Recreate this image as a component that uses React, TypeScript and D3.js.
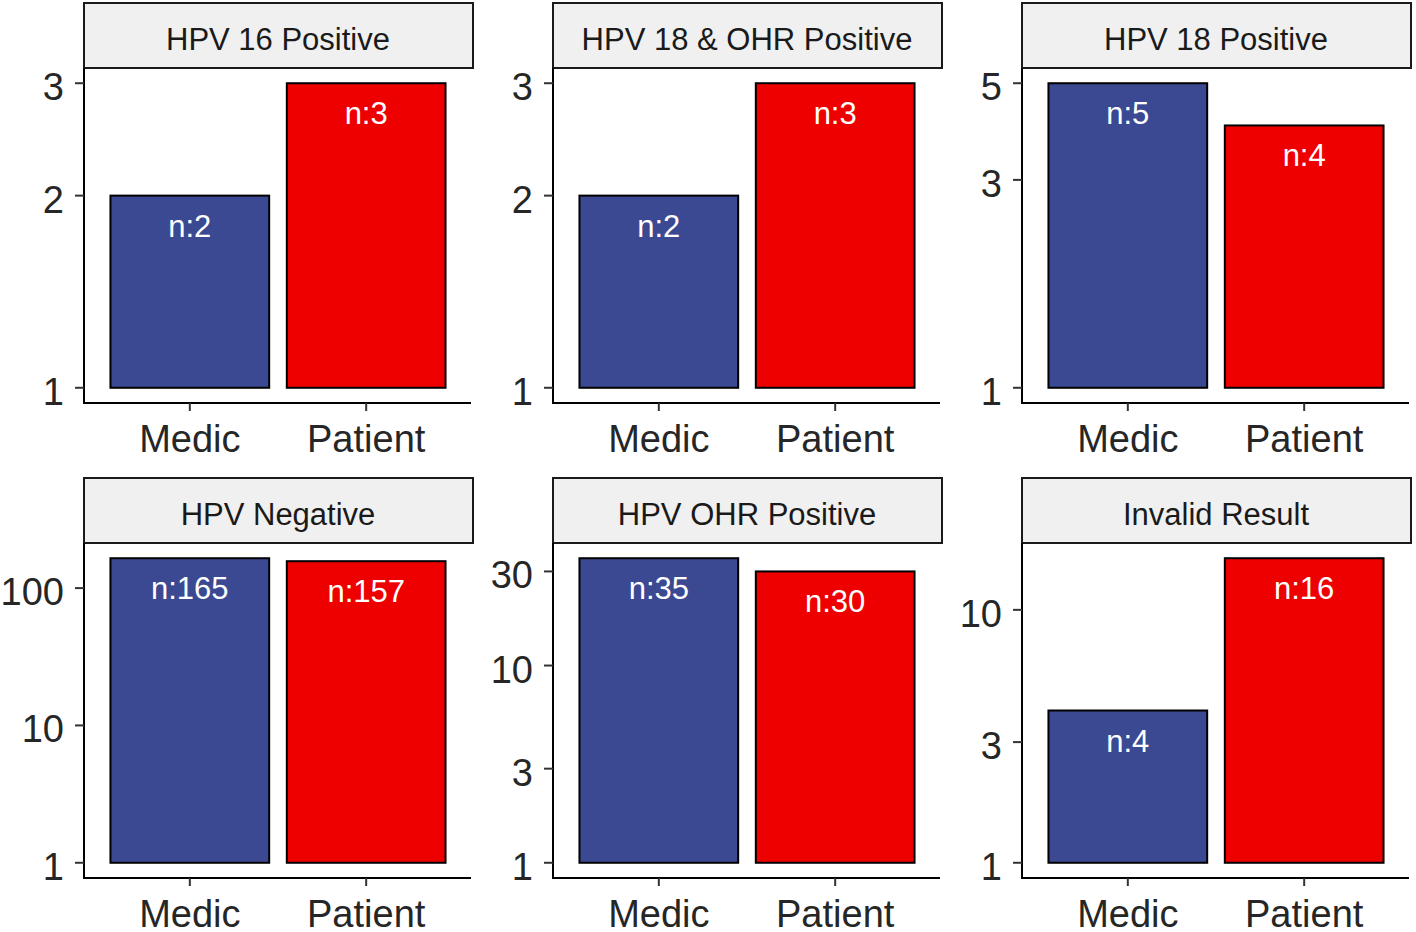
import React from "react";
import * as d3 from "d3";

const panels = [
  "HPV 16 Positive",
  "HPV 18 & OHR Positive",
  "HPV 18 Positive",
  "HPV Negative",
  "HPV OHR Positive",
  "Invalid Result",
];
const groups = ["Medic", "Patient"];
const medicCounts = [2, 2, 5, 165, 35, 4];
const patientCounts = [3, 3, 4, 157, 30, 16];
const yTicks = [
  [1, 2, 3],
  [1, 2, 3],
  [1, 3, 5],
  [1, 10, 100],
  [1, 3, 10, 30],
  [1, 3, 10],
];
const groupColors = ["#3B4992", "#EE0000"];

const W = 1416;
const H = 932;
const colLeft = [84, 553, 1022];
const panelW = 388;
const rowTop = [3, 478];
const stripH = 65;
const panelH = 335;
const FONT = "'Liberation Sans', Arial, sans-serif";

function Panel({ idx }: { idx: number }) {
  const col = idx % 3;
  const row = Math.floor(idx / 3);
  const left = colLeft[col];
  const right = left + panelW;
  const stripTop = rowTop[row];
  const top = stripTop + stripH;
  const bottom = top + panelH;
  const values = [medicCounts[idx], patientCounts[idx]];
  const maxV = d3.max(values) as number;
  const hi = Math.log10(maxV);
  const pad = 0.05 * hi;
  const y = d3
    .scaleLog()
    .domain([Math.pow(10, -pad), maxV * Math.pow(10, pad)])
    .range([bottom, top]);
  const x = d3
    .scaleBand<string>()
    .domain(groups)
    .range([left, right])
    .paddingInner(0.1)
    .paddingOuter(0.15);

  return (
    <g>
      {/* strip */}
      <rect
        x={left}
        y={stripTop}
        width={panelW + 1}
        height={stripH}
        fill="#F0F0F0"
        stroke="#1a1a1a"
        strokeWidth={2}
      />
      <text
        x={left + panelW / 2}
        y={stripTop + 47}
        textAnchor="middle"
        fontFamily={FONT}
        fontSize={31}
        fill="#1a1a1a"
      >
        {panels[idx]}
      </text>
      {/* bars */}
      {groups.map((g, i) => {
        const v = values[i];
        const x0 = x(g) as number;
        const yTop = y(v);
        const yBase = y(1);
        return (
          <g key={g}>
            <rect
              x={x0}
              y={yTop}
              width={x.bandwidth()}
              height={yBase - yTop}
              fill={groupColors[i]}
              stroke="#000"
              strokeWidth={2}
            />
            <text
              x={x0 + x.bandwidth() / 2}
              y={yTop + 41}
              textAnchor="middle"
              fontFamily={FONT}
              fontSize={31}
              fill="#ffffff"
            >
              {"n:" + v}
            </text>
          </g>
        );
      })}
      {/* y axis */}
      <line x1={left} x2={left} y1={top} y2={bottom + 1} stroke="#000" strokeWidth={2} />
      {yTicks[idx].map((t) => (
        <g key={t}>
          <line x1={left - 9} x2={left} y1={y(t)} y2={y(t)} stroke="#333" strokeWidth={2} />
          <text
            x={left - 20}
            y={y(t) + 17}
            textAnchor="end"
            fontFamily={FONT}
            fontSize={38}
            fill="#262626"
          >
            {t}
          </text>
        </g>
      ))}
      {/* x axis */}
      <line x1={left - 1} x2={right - 1} y1={bottom} y2={bottom} stroke="#000" strokeWidth={2} />
      {groups.map((g) => {
        const cx = (x(g) as number) + x.bandwidth() / 2;
        return (
          <g key={g}>
            <line x1={cx} x2={cx} y1={bottom} y2={bottom + 8} stroke="#333" strokeWidth={2} />
            <text
              x={cx}
              y={bottom + 49}
              textAnchor="middle"
              fontFamily={FONT}
              fontSize={38}
              fill="#262626"
            >
              {g}
            </text>
          </g>
        );
      })}
    </g>
  );
}

export default function App() {
  return (
    <svg
      width={W}
      height={H}
      style={{ position: "absolute", left: 0, top: 0, background: "#fff" }}
    >
      <rect x={0} y={0} width={W} height={H} fill="#fff" />
      {panels.map((p, i) => (
        <Panel key={p} idx={i} />
      ))}
    </svg>
  );
}
